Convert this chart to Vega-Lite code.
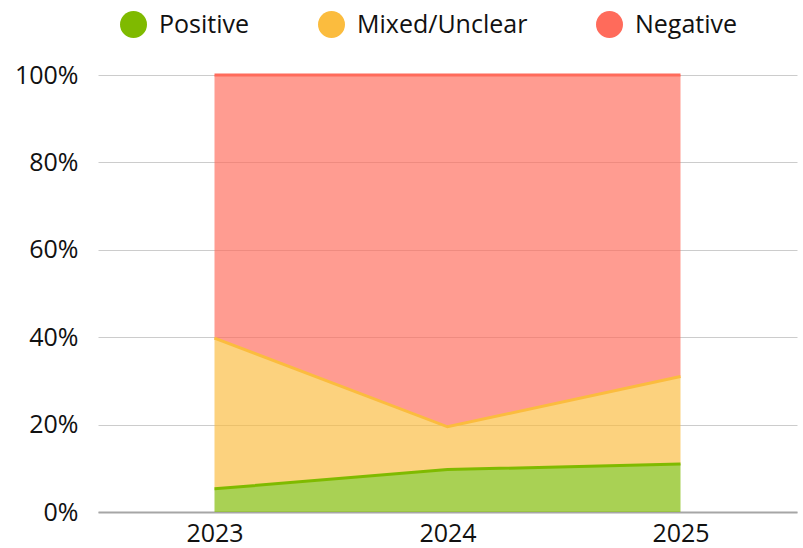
{
  "$schema": "https://vega.github.io/schema/vega-lite/v6.json",
  "width": 699,
  "height": 437,
  "padding": {"left": 98, "top": 75, "right": 6, "bottom": 36},
  "autosize": {"type": "none"},
  "config": {
    "font": "Open Sans",
    "view": {"stroke": null},
    "axis": {"labelFont": "Open Sans", "labelColor": "#111", "labelFontSize": 25}
  },
  "data": {
    "values": [
      {"year": "2023", "category": "Positive", "order": 1, "value": 5.3},
      {"year": "2023", "category": "Mixed/Unclear", "order": 2, "value": 34.5},
      {"year": "2023", "category": "Negative", "order": 3, "value": 60.2},
      {"year": "2024", "category": "Positive", "order": 1, "value": 9.7},
      {"year": "2024", "category": "Mixed/Unclear", "order": 2, "value": 9.8},
      {"year": "2024", "category": "Negative", "order": 3, "value": 80.5},
      {"year": "2025", "category": "Positive", "order": 1, "value": 11.0},
      {"year": "2025", "category": "Mixed/Unclear", "order": 2, "value": 20.0},
      {"year": "2025", "category": "Negative", "order": 3, "value": 69.0}
    ]
  },
  "encoding": {
    "x": {
      "field": "year", "type": "ordinal",
      "scale": {"type": "point", "padding": 0.5},
      "axis": {"title": null, "labelAngle": 0, "ticks": false, "domainColor": "#a6a6a6", "domainWidth": 2, "labelPadding": 9, "grid": false}
    },
    "y": {
      "field": "value", "type": "quantitative", "stack": "normalize",
      "axis": {"title": null, "format": ".0%", "values": [0, 0.2, 0.4, 0.6, 0.8, 1], "labelOverlap": false, "domain": false, "ticks": false, "labelPadding": 20, "gridColor": "#cccccc", "gridWidth": 1}
    },
    "order": {"field": "order", "type": "quantitative"},
    "color": {
      "field": "category", "type": "nominal",
      "scale": {"domain": ["Positive", "Mixed/Unclear", "Negative"], "range": ["#7fba00", "#fbbc3e", "#ff6b5b"]},
      "legend": {
        "title": null, "orient": "none", "legendX": 22, "legendY": -64, "direction": "horizontal",
        "symbolType": "circle", "symbolSize": 729, "symbolOpacity": 1, "symbolStrokeWidth": 0,
        "labelFontSize": 25, "labelFont": "Open Sans", "labelColor": "#111", "labelLimit": 400, "columnPadding": 68, "labelOffset": 12
      }
    }
  },
  "layer": [
    {"mark": {"type": "area", "opacity": 0.67}},
    {"mark": {"type": "line", "strokeWidth": 3}}
  ]
}
